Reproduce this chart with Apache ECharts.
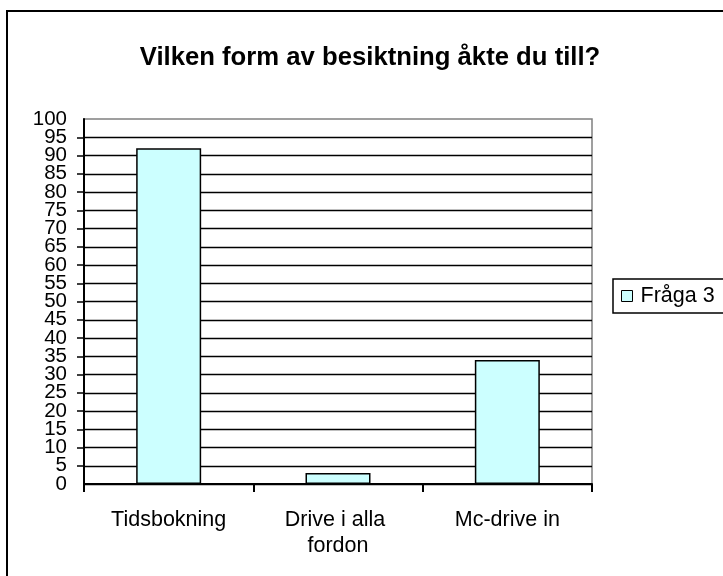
<!DOCTYPE html>
<html>
<head>
<meta charset="utf-8">
<script src="https://cdn.jsdelivr.net/npm/echarts@6/dist/echarts.min.js"></script>
<style>
html,body{margin:0;padding:0;background:#fff;}
#c{width:723px;height:576px;}
</style>
</head>
<body>
<div id="c"></div>
<script>
const titleText = 'Vilken form av besiktning åkte du till?';
const categories = ['Tidsbokning', 'Drive i alla fordon', 'Mc-drive in'];
const seriesName = 'Fråga 3';
const values = [92, 3, 34];
const yMin = 0, yMax = 100, yStep = 5;

const FONT = '"Liberation Sans", Arial, sans-serif';
const yLabelStyle = {fontFamily: FONT, fontSize: 20.5, color: '#000', margin: 17};
const chart = echarts.init(document.getElementById('c'), null, {renderer: 'canvas'});
chart.setOption({
  animation: false,
  backgroundColor: '#fff',
  graphic: [{
    type: 'rect', z: 100, silent: true,
    shape: {x: 7, y: 11, width: 800, height: 700},
    style: {fill: 'none', stroke: '#000', lineWidth: 2}
  }],
  title: {
    text: titleText, left: 365, top: 40, textAlign: 'center',
    textStyle: {fontFamily: FONT, fontWeight: 'bold', fontSize: 25.7, color: '#000'}
  },
  legend: {
    data: [seriesName], left: 613, top: 279,
    padding: [6, 40, 6, 8],
    borderColor: '#000', borderWidth: 1.5,
    itemWidth: 11, itemHeight: 11, itemGap: 8,
    icon: 'rect',
    itemStyle: {borderColor: '#000', borderWidth: 1},
    textStyle: {fontFamily: FONT, fontSize: 21.5, color: '#000', padding: [0, 0, 0, 3]}
  },
  grid: {
    left: 84, right: 131, top: 119, bottom: 92,
    show: true, borderColor: '#808080', borderWidth: 1.5, backgroundColor: '#fff'
  },
  xAxis: {
    type: 'category', data: categories,
    axisLine: {lineStyle: {color: '#000', width: 2}},
    axisTick: {show: true, length: 8, alignWithLabel: false, lineStyle: {color: '#000', width: 2}},
    axisLabel: {
      fontFamily: FONT, fontSize: 21.5, color: '#000', margin: 23,
      width: 150, overflow: 'break', lineHeight: 26, interval: 0
    },
    splitLine: {show: false}
  },
  yAxis: [{
    type: 'value', min: yMin, max: yMax, interval: yStep, position: 'left',
    axisLine: {show: true, lineStyle: {color: '#000', width: 2}},
    axisTick: {show: true, length: 7, lineStyle: {color: '#000', width: 1.5}},
    axisLabel: Object.assign({showMinLabel: false, showMaxLabel: false}, yLabelStyle),
    splitLine: {show: true, showMaxLine: false, lineStyle: {color: '#000', width: 1.3}}
  }, {
    type: 'value', min: yMin, max: yMax, interval: yMax - yMin, position: 'left', offset: 0,
    axisLine: {show: false}, axisTick: {show: false}, splitLine: {show: false},
    axisLabel: Object.assign({showMinLabel: true, showMaxLabel: true}, yLabelStyle)
  }],
  series: [{
    name: seriesName, type: 'bar', data: values,
    barWidth: 65, yAxisIndex: 0,
    itemStyle: {color: '#CCFFFF', borderColor: '#000', borderWidth: 1.5}
  }]
});
</script>
</body>
</html>
